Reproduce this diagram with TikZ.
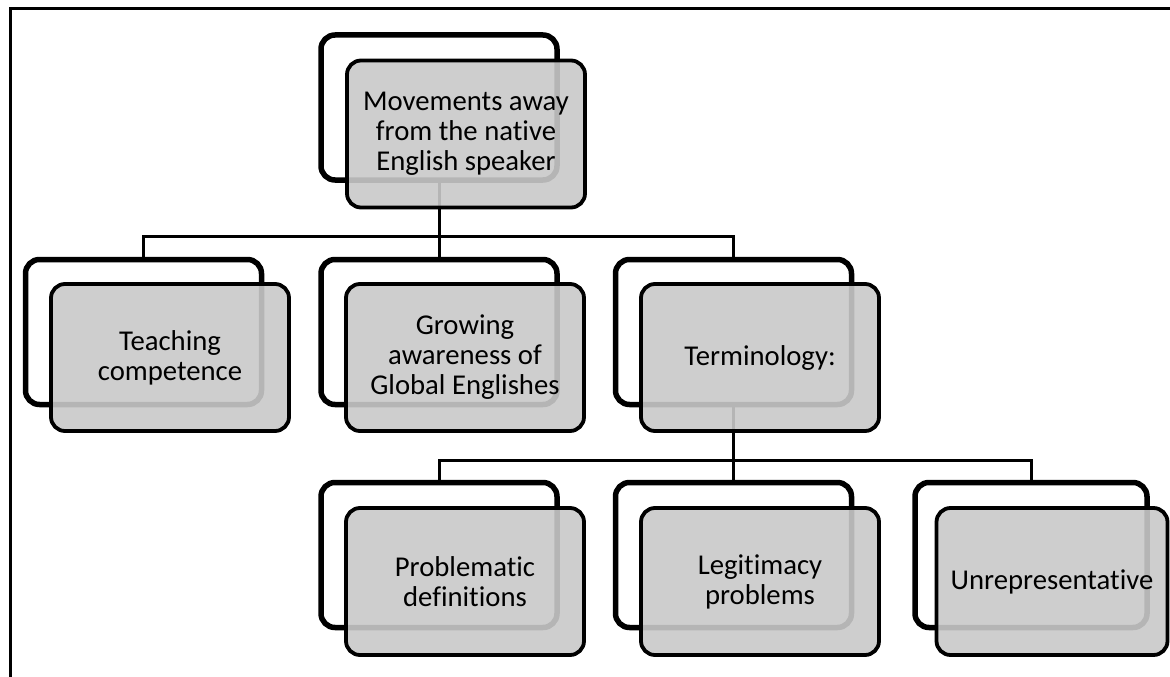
\documentclass[tikz,border=0pt]{standalone}
\usepackage{fontspec}
\setmainfont[Ligatures=NoCommon]{Carlito}
\usepackage{tikz}
\usetikzlibrary{positioning}

\begin{document}
\begin{tikzpicture}[x=1pt,y=-1pt,
  back/.style={draw=black,line width=5.5pt,fill=white,rounded corners=14pt,
    minimum width=236pt,minimum height=145pt,inner sep=0pt},
  front/.style={draw=black,line width=3.8pt,fill=black!21,fill opacity=0.9,
    text opacity=1,rounded corners=14pt,minimum width=238pt,minimum height=147pt,
    inner sep=0pt,align=center,font=\fontsize{28.7}{30}\selectfont},
  link/.style={draw=black,line width=3pt}]
\useasboundingbox (0,0) rectangle (1170,677);
\draw[line width=3pt] (10,677) -- (10,9) -- (1170,9);
% back boxes
\node[back] (rootB) at (439,107.5) {};
\node[back] (teachB) at (143.5,332) {};
\node[back] (awareB) at (439,332) {};
\node[back] (termB) at (733.5,332) {};
\node[back] (problB) at (439,555) {};
\node[back] (legitB) at (733.5,555) {};
\node[back,minimum width=232pt] (unrepB) at (1031,555) {};
% connectors
\coordinate (bar1) at (0,236);
\coordinate (bar2) at (0,460);
\draw[link] (rootB.south) -- (rootB.south |- bar1) -| (teachB.north);
\draw[link] (rootB.south |- bar1) -- (awareB.north);
\draw[link] (rootB.south |- bar1) -| (termB.north);
\draw[link] (termB.south) -- (termB.south |- bar2) -| (problB.north);
\draw[link] (termB.south |- bar2) -- (legitB.north);
\draw[link] (termB.south |- bar2) -| (unrepB.north);
% front boxes
\node[front] (root) at (466,134) {Movements away\\from the native\\English speaker};
\node[front] (teach) at (170,357.5) {Teaching\\competence};
\node[front] (aware) at (465,357.5) {Growing\\awareness of\\Global Englishes};
\node[front] (term) at (760,357.5) {Terminology:};
\node[front] (probl) at (465,581.5) {Problematic\\definitions};
\node[front] (legit) at (760,581.5) {Legitimacy\\problems};
\node[front,minimum width=231pt] (unrep) at (1052,581.5) {Unrepresentative};
\end{tikzpicture}
\end{document}
